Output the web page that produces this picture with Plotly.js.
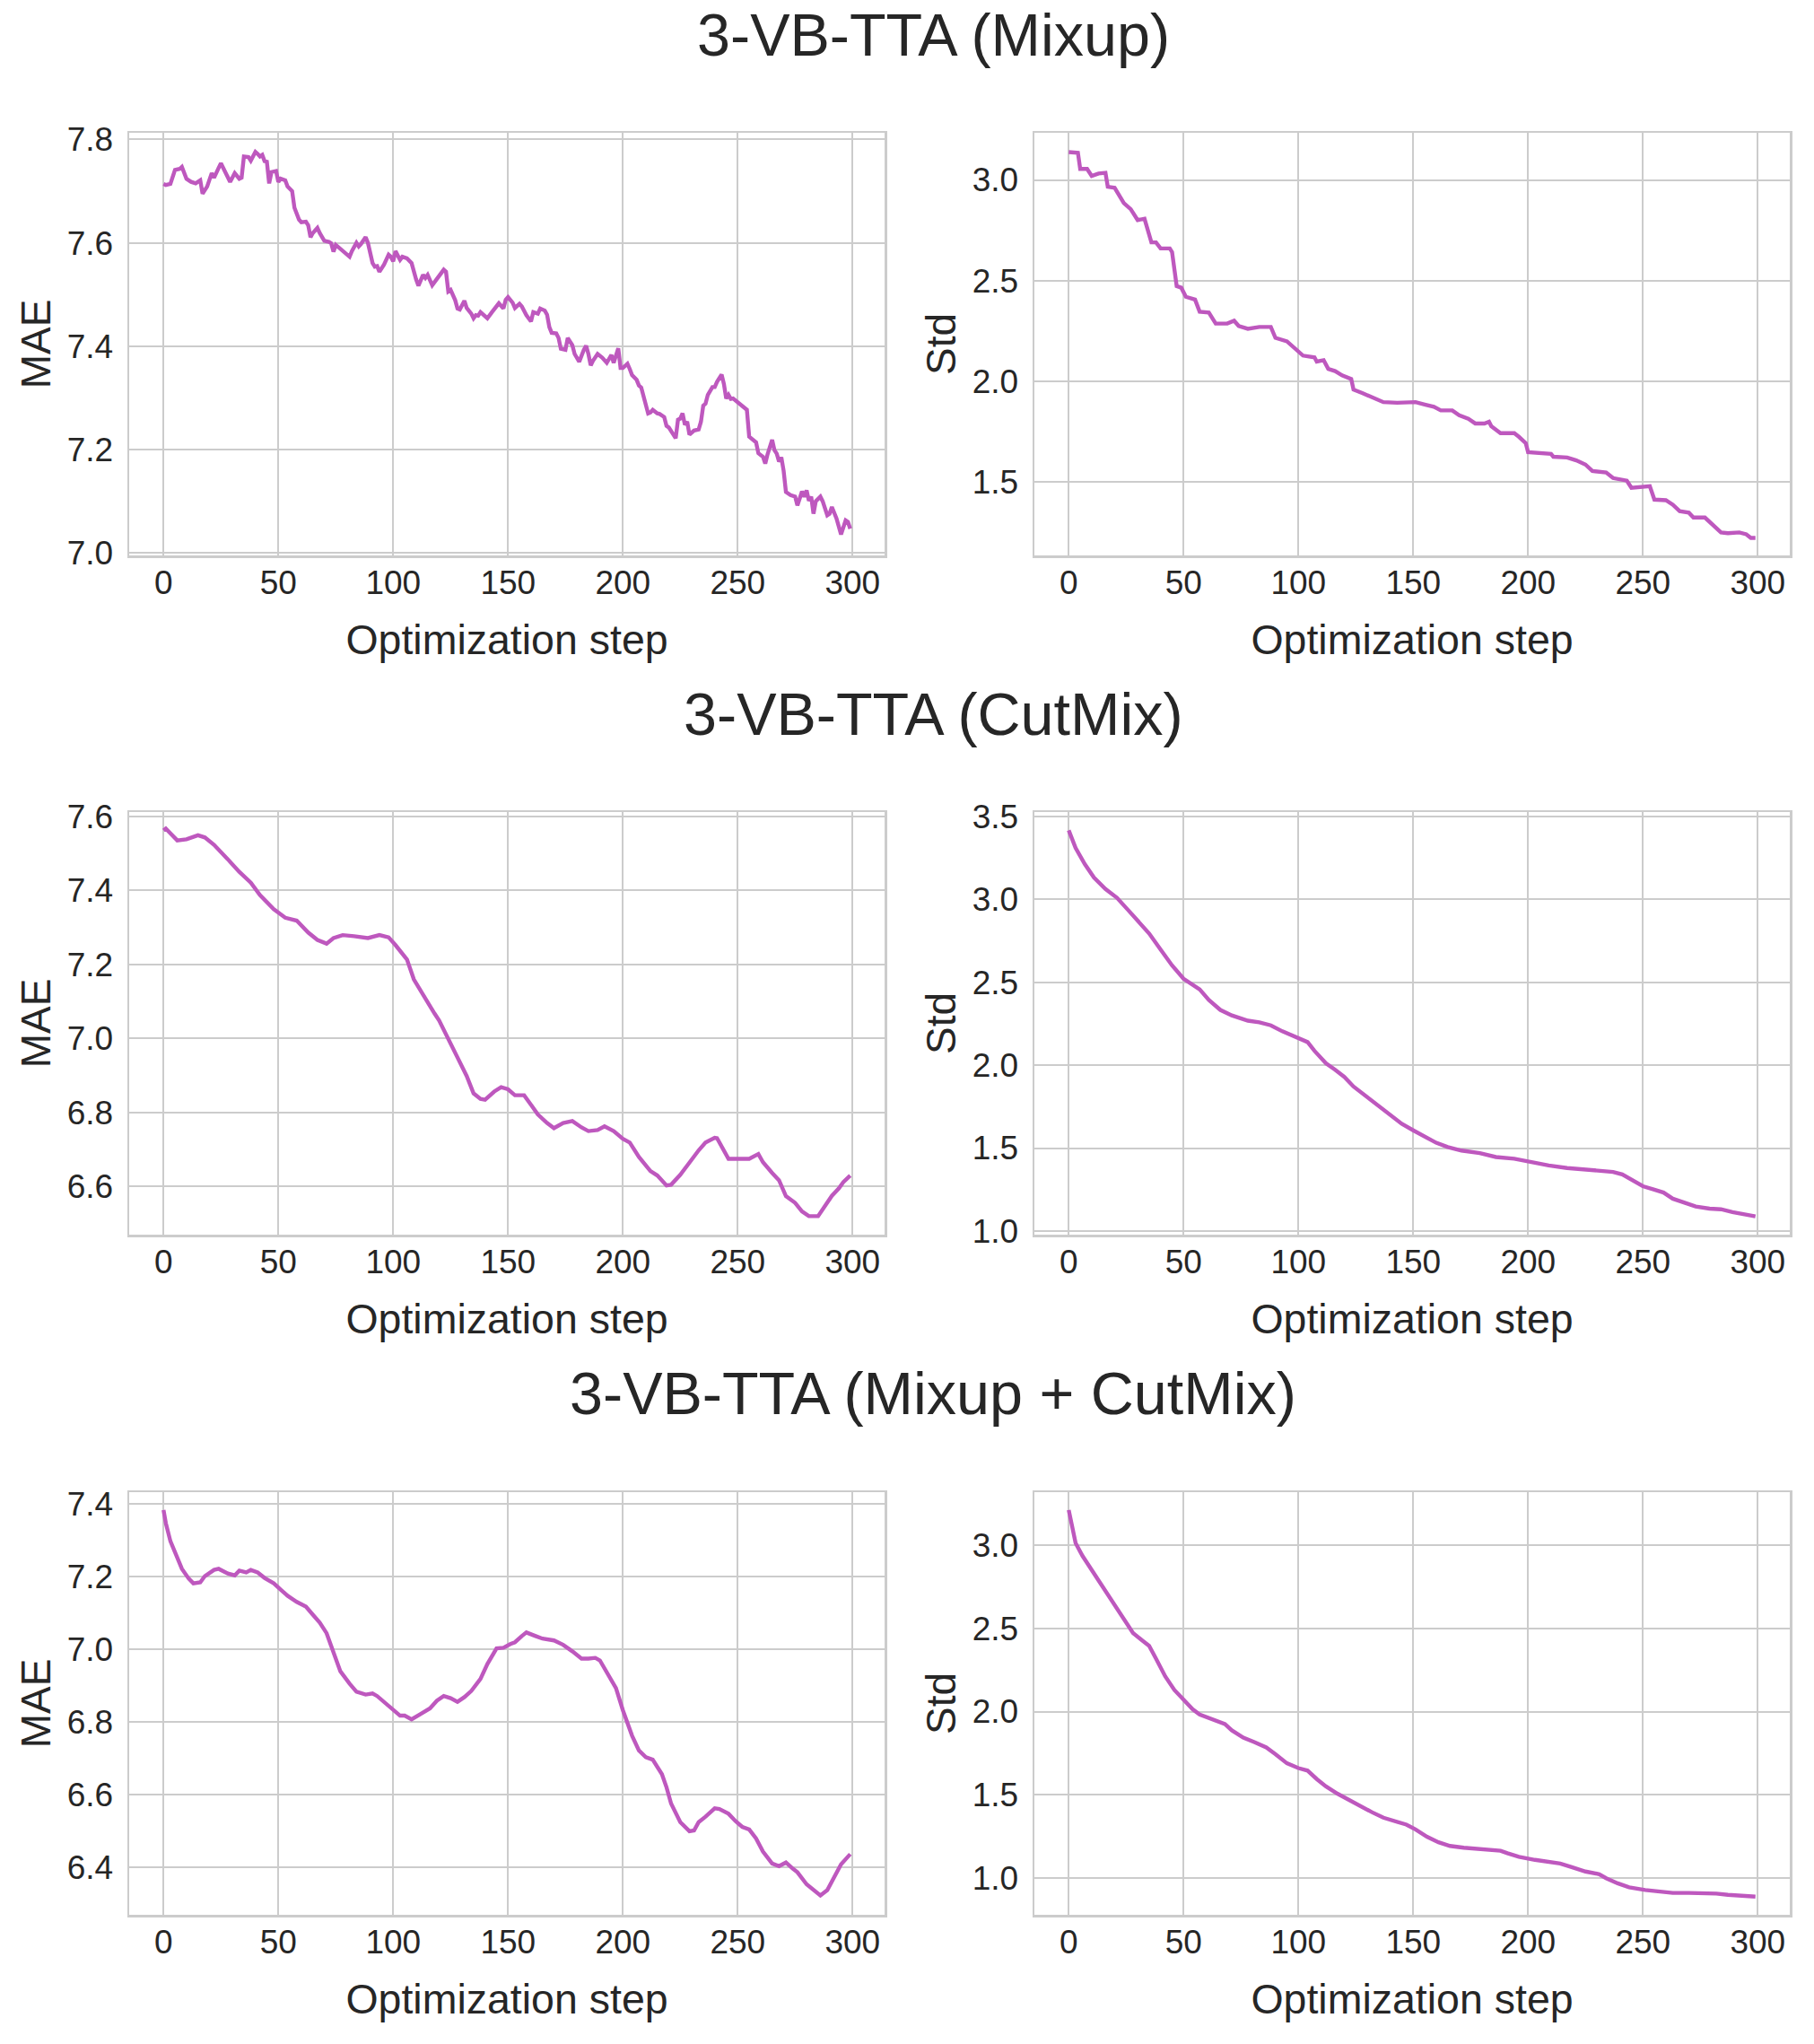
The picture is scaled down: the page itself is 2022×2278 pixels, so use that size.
<!DOCTYPE html>
<html>
<head>
<meta charset="utf-8">
<script src="https://cdn.plot.ly/plotly-3.0.1.min.js"></script>
<style>html,body{margin:0;padding:0;background:#fff;}#chart{width:2022px;height:2278px;}</style>
</head>
<body>
<div id="chart"></div>
<script>
// ---------- DATA ----------
const groupTitles = ["3-VB-TTA (Mixup)", "3-VB-TTA (CutMix)", "3-VB-TTA (Mixup + CutMix)"];
const xLabel = "Optimization step";
const maeLabel = "MAE";
const stdLabel = "Std";
const xTickVals = [0, 50, 100, 150, 200, 250, 300];

// Mixup - MAE
const mixupMaeSteps = [0,1,3,5,7,8,10,12,14,16,17,19,21,22,24,25,29,31,33,34,35,37,38,40,41,42,43,44,45,46,47,49,50,51,53,54,56,57,59,60,62,63,64,65,67,68,70,72,73,74,75,77,79,81,82,84,85,86,88,89,91,92,93,94,96,98,99,100,101,102,103,104,106,108,109,110,111,113,114,115,117,119,121,122,123,124,125,127,128,129,131,132,134,135,136,137,138,140,141,143,145,146,148,149,150,152,153,155,156,158,160,161,163,164,166,167,168,169,171,172,173,175,176,178,179,181,183,184,185,186,187,189,191,193,195,196,198,199,200,202,203,204,206,207,208,209,211,212,213,215,216,218,219,220,221,223,224,225,226,227,228,229,231,233,234,235,236,237,239,240,241,243,244,245,246,247,248,250,252,254,255,256,258,259,261,262,263,265,266,267,268,269,270,271,273,275,276,278,279,280,281,282,283,284,286,287,289,290,291,293,294,295,297,298,299];
const mixupMae = [7.714,7.712,7.714,7.741,7.743,7.747,7.724,7.718,7.715,7.721,7.695,7.709,7.735,7.726,7.745,7.754,7.718,7.735,7.724,7.726,7.767,7.766,7.759,7.776,7.772,7.767,7.770,7.758,7.757,7.715,7.737,7.739,7.718,7.724,7.721,7.709,7.700,7.668,7.645,7.640,7.641,7.634,7.611,7.619,7.629,7.619,7.604,7.602,7.599,7.583,7.596,7.589,7.582,7.573,7.584,7.600,7.593,7.598,7.611,7.600,7.561,7.554,7.555,7.544,7.558,7.577,7.573,7.564,7.584,7.576,7.567,7.573,7.570,7.561,7.541,7.529,7.517,7.538,7.532,7.538,7.518,7.529,7.541,7.548,7.544,7.506,7.509,7.489,7.473,7.471,7.488,7.474,7.463,7.454,7.460,7.459,7.466,7.459,7.454,7.466,7.478,7.483,7.473,7.490,7.495,7.484,7.474,7.482,7.477,7.460,7.448,7.466,7.463,7.473,7.469,7.461,7.437,7.426,7.425,7.416,7.395,7.393,7.416,7.402,7.385,7.370,7.393,7.401,7.385,7.363,7.372,7.385,7.378,7.368,7.383,7.368,7.396,7.358,7.358,7.366,7.356,7.344,7.335,7.324,7.320,7.301,7.270,7.272,7.277,7.270,7.269,7.263,7.246,7.243,7.237,7.222,7.258,7.260,7.270,7.248,7.254,7.229,7.237,7.239,7.254,7.285,7.289,7.306,7.321,7.321,7.331,7.345,7.327,7.299,7.306,7.298,7.299,7.292,7.285,7.277,7.225,7.221,7.214,7.193,7.186,7.173,7.191,7.219,7.199,7.192,7.177,7.185,7.159,7.118,7.112,7.109,7.092,7.119,7.109,7.121,7.101,7.109,7.076,7.100,7.109,7.100,7.073,7.076,7.089,7.067,7.049,7.036,7.063,7.060,7.047];

// Mixup - Std
const mixupStdSteps = [0,4,5,8,10,13,16,17,20,24,27,30,33,36,38,40,44,45,47,49,51,55,57,61,64,69,72,74,78,83,88,90,95,98,102,107,108,111,113,116,119,123,124,128,132,137,143,151,155,159,162,167,170,174,177,181,183,184,188,194,196,199,200,204,210,211,217,221,225,228,234,237,243,245,253,255,260,263,266,270,272,277,280,284,287,292,295,297,299];
const mixupStd = [3.138,3.135,3.055,3.055,3.020,3.032,3.035,2.966,2.961,2.885,2.855,2.801,2.807,2.690,2.690,2.660,2.660,2.642,2.473,2.465,2.420,2.406,2.346,2.342,2.287,2.287,2.301,2.275,2.261,2.270,2.270,2.216,2.199,2.168,2.128,2.119,2.098,2.105,2.062,2.051,2.030,2.012,1.959,1.941,1.920,1.897,1.894,1.897,1.885,1.874,1.856,1.856,1.832,1.814,1.791,1.791,1.800,1.777,1.743,1.743,1.725,1.693,1.649,1.644,1.640,1.626,1.622,1.608,1.587,1.555,1.548,1.520,1.507,1.472,1.480,1.413,1.410,1.388,1.356,1.348,1.324,1.324,1.294,1.250,1.246,1.250,1.241,1.223,1.223];

// CutMix - MAE
const cutmixMaeSteps = [0,1,3,6,10,15,18,22,28,33,38,42,48,53,58,63,67,71,74,78,83,89,94,98,101,103,106,109,114,118,120,124,128,132,135,138,140,144,147,150,153,157,160,163,167,170,174,178,182,185,189,192,196,200,203,207,212,215,219,221,225,229,233,236,240,241,244,246,250,255,259,261,265,268,271,275,278,281,285,288,291,294,296,299];
const cutmixMae = [7.562,7.567,7.554,7.535,7.538,7.549,7.543,7.523,7.484,7.450,7.421,7.387,7.349,7.326,7.318,7.286,7.266,7.256,7.271,7.279,7.276,7.271,7.279,7.273,7.252,7.237,7.213,7.159,7.106,7.067,7.048,6.999,6.946,6.898,6.851,6.836,6.834,6.856,6.868,6.862,6.846,6.846,6.820,6.794,6.771,6.757,6.771,6.776,6.759,6.749,6.752,6.762,6.749,6.728,6.718,6.679,6.641,6.629,6.602,6.604,6.631,6.665,6.697,6.718,6.731,6.730,6.699,6.674,6.674,6.674,6.687,6.665,6.636,6.616,6.573,6.555,6.532,6.519,6.519,6.548,6.574,6.594,6.611,6.629];

// CutMix - Std
const cutmixStdSteps = [0,3,7,11,16,21,26,31,35,40,45,50,54,57,61,66,71,78,83,88,93,99,104,107,112,116,120,124,129,134,140,145,150,155,160,165,171,179,186,194,201,209,217,224,232,237,241,246,250,255,259,263,268,273,279,284,289,295,299];
const cutmixStd = [3.416,3.309,3.212,3.131,3.062,3.009,2.933,2.858,2.794,2.697,2.601,2.521,2.487,2.457,2.393,2.333,2.300,2.268,2.258,2.240,2.204,2.172,2.139,2.086,2.011,1.972,1.929,1.871,1.818,1.764,1.700,1.646,1.607,1.571,1.532,1.506,1.485,1.470,1.446,1.436,1.416,1.395,1.380,1.373,1.363,1.356,1.341,1.303,1.270,1.249,1.232,1.195,1.174,1.148,1.135,1.131,1.114,1.099,1.088];

// Mixup + CutMix - MAE
const bothMaeSteps = [0,1,3,6,8,11,13,16,18,22,24,28,31,33,36,38,41,44,48,51,54,58,62,65,68,71,74,77,81,84,88,91,93,96,99,103,105,108,112,116,119,122,125,128,131,134,138,141,145,148,151,153,156,158,162,165,170,174,178,182,185,188,190,193,197,200,204,207,210,213,217,219,221,225,229,231,233,236,240,242,246,249,252,255,258,261,265,268,271,274,276,280,283,286,289,292,295,299];
const bothMae = [7.383,7.347,7.297,7.255,7.221,7.194,7.181,7.184,7.201,7.218,7.221,7.208,7.203,7.216,7.211,7.218,7.211,7.196,7.181,7.164,7.147,7.130,7.117,7.095,7.073,7.044,6.994,6.939,6.905,6.883,6.875,6.878,6.871,6.855,6.837,6.817,6.817,6.807,6.822,6.837,6.858,6.871,6.865,6.855,6.868,6.885,6.918,6.959,7.002,7.004,7.014,7.019,7.036,7.046,7.036,7.029,7.024,7.012,6.994,6.974,6.974,6.976,6.969,6.935,6.893,6.832,6.762,6.721,6.703,6.696,6.656,6.620,6.575,6.524,6.499,6.501,6.524,6.539,6.562,6.560,6.547,6.527,6.511,6.504,6.479,6.443,6.410,6.403,6.413,6.396,6.386,6.353,6.339,6.322,6.337,6.373,6.408,6.436];

// Mixup + CutMix - Std
const bothStdSteps = [0,1,3,6,9,13,17,21,25,28,32,35,38,42,46,50,54,57,62,68,71,76,81,86,90,95,100,104,108,112,117,122,127,132,137,142,147,151,156,161,166,172,180,188,191,196,203,209,214,219,225,231,234,239,244,251,257,263,270,276,282,287,294,299];
const bothStd = [3.212,3.135,3.013,2.936,2.874,2.792,2.704,2.616,2.539,2.472,2.428,2.395,2.318,2.212,2.130,2.075,2.013,1.982,1.954,1.925,1.887,1.843,1.815,1.784,1.744,1.689,1.660,1.645,1.594,1.550,1.506,1.468,1.435,1.395,1.362,1.340,1.320,1.291,1.247,1.214,1.192,1.181,1.170,1.163,1.148,1.126,1.108,1.093,1.086,1.064,1.038,1.022,0.998,0.967,0.943,0.927,0.916,0.909,0.909,0.909,0.905,0.898,0.892,0.887];

// ---------- STYLE ----------
const W = 2022, H = 2278;
const FONT = "Liberation Sans, Arial, Helvetica, sans-serif";
const TEXT = "#262626";
const LINE_COLOR = "rgb(190,88,190)";
const GRID = "#cccccc";

const panels = [
  {steps: mixupMaeSteps,  vals: mixupMae,  ylab: maeLabel, yr: [6.9953, 7.8129], dt: 0.2, row: 0, col: 0},
  {steps: mixupStdSteps,  vals: mixupStd,  ylab: stdLabel, yr: [1.136, 3.234],   dt: 0.5, row: 0, col: 1},
  {steps: cutmixMaeSteps, vals: cutmixMae, ylab: maeLabel, yr: [6.469, 7.6117],  dt: 0.2, row: 1, col: 0},
  {steps: cutmixStdSteps, vals: cutmixStd, ylab: stdLabel, yr: [0.978, 3.526],   dt: 0.5, row: 1, col: 1},
  {steps: bothMaeSteps,   vals: bothMae,   ylab: maeLabel, yr: [6.269, 7.432],   dt: 0.2, row: 2, col: 0},
  {steps: bothStdSteps,   vals: bothStd,   ylab: stdLabel, yr: [0.7777, 3.3195], dt: 0.5, row: 2, col: 1}
];

// pixel frame of each panel
const colPx = [[144, 986], [1153, 1995]];
const rowPx = [[148, 619], [905, 1376], [1663, 2134]];
const titleCenterPx = [39, 796, 1553];
const titleCenterX = 1040;

const traces = [];
const layout = {
  width: W, height: H,
  margin: {l: 0, r: 0, t: 0, b: 0},
  paper_bgcolor: "#ffffff",
  plot_bgcolor: "#ffffff",
  showlegend: false,
  font: {family: FONT, color: TEXT, size: 37},
  annotations: []
};

panels.forEach((p, i) => {
  const n = i === 0 ? "" : String(i + 1);
  traces.push({
    type: "scatter", mode: "lines",
    x: p.steps, y: p.vals,
    xaxis: "x" + n, yaxis: "y" + n,
    line: {color: LINE_COLOR, width: 4.4},
    hoverinfo: "skip"
  });
  const cx = colPx[p.col], ry = rowPx[p.row];
  layout["xaxis" + n] = {
    domain: [cx[0] / W, cx[1] / W],
    anchor: "y" + n,
    range: [-14.95, 313.95],
    tickvals: xTickVals,
    ticktext: xTickVals.map(String),
    ticks: "", ticklabelstandoff: -4,
    tickfont: {family: FONT, size: 37, color: TEXT},
    showgrid: true, gridcolor: GRID, gridwidth: 2,
    zeroline: false,
    showline: true, mirror: true, linecolor: GRID, linewidth: 2.5,
    automargin: false,
    title: {text: xLabel, font: {family: FONT, size: 46.5, color: TEXT}, standoff: 28}
  };
  layout["yaxis" + n] = {
    domain: [1 - ry[1] / H, 1 - ry[0] / H],
    anchor: "x" + n,
    range: p.yr,
    dtick: p.dt, tick0: 0,
    tickformat: ".1f",
    ticks: "", ticklabelstandoff: 8,
    tickfont: {family: FONT, size: 37, color: TEXT},
    showgrid: true, gridcolor: GRID, gridwidth: 2,
    zeroline: false,
    showline: true, mirror: true, linecolor: GRID, linewidth: 2.5,
    automargin: false,
    title: {text: p.ylab, font: {family: FONT, size: 46, color: TEXT}, standoff: 4}
  };
});

groupTitles.forEach((t, r) => {
  layout.annotations.push({
    text: t, xref: "paper", yref: "paper",
    x: titleCenterX / W, y: 1 - titleCenterPx[r] / H,
    xanchor: "center", yanchor: "middle",
    showarrow: false,
    font: {family: FONT, size: 66.5, color: TEXT}
  });
});

Plotly.newPlot("chart", traces, layout, {staticPlot: true, displayModeBar: false});
</script>
</body>
</html>
